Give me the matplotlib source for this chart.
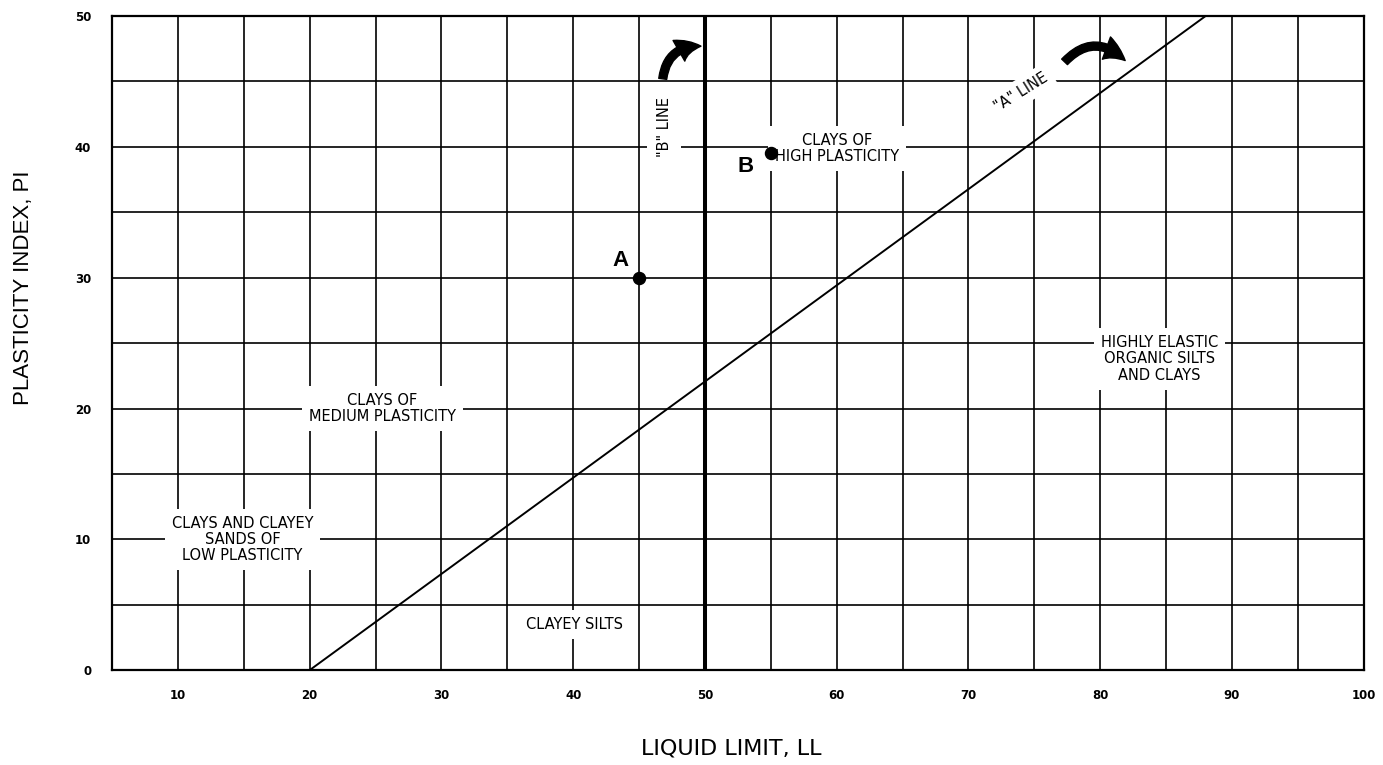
import matplotlib
matplotlib.use("Agg")
import matplotlib.pyplot as plt
from matplotlib.patches import FancyArrowPatch

plt.rcParams['font.family'] = ['DejaVu Sans']

# ---- data ----
x_ticks = [10, 20, 30, 40, 50, 60, 70, 80, 90, 100]
y_ticks = [0, 10, 20, 30, 40, 50]
grid_x = [10, 15, 20, 25, 30, 35, 40, 45, 50, 55, 60, 65, 70, 75, 80, 85, 90, 95]
grid_y = [5, 10, 15, 20, 25, 30, 35, 40, 45]
a_line_ll = [20, 88]
a_line_pi = [0, 50]
b_line_ll = [50, 50]
b_line_pi = [0, 50]
points_name = ["A", "B"]
points_ll = [45, 55]
points_pi = [30.0, 39.5]
zone_labels = ["CLAYS AND CLAYEY\nSANDS OF\nLOW PLASTICITY",
               "CLAYS OF\nMEDIUM PLASTICITY",
               "CLAYEY SILTS",
               "CLAYS OF\nHIGH PLASTICITY",
               "HIGHLY ELASTIC\nORGANIC SILTS\nAND CLAYS"]
zone_ll = [14.9, 25.5, 40.1, 60.0, 84.5]
zone_pi = [10.0, 20.0, 3.5, 39.9, 23.8]

fig = plt.figure(figsize=(13.83, 7.65), dpi=100)
ax = fig.add_axes([0.081, 0.124, 0.905, 0.855])
ax.set_xlim(5, 100)
ax.set_ylim(0, 50)

for gx in grid_x:
    ax.axvline(gx, color='black', lw=1.2, zorder=1)
for gy in grid_y:
    ax.axhline(gy, color='black', lw=1.2, zorder=1)

ax.plot(a_line_ll, a_line_pi, color='black', lw=1.4, zorder=2)
ax.plot(b_line_ll, b_line_pi, color='black', lw=2.9, zorder=2)

for s in ax.spines.values():
    s.set_linewidth(1.6)

ax.set_xticks(x_ticks)
ax.set_yticks(y_ticks)
ax.tick_params(length=0, labelsize=8.5)
ax.tick_params(axis='x', pad=13.5)
ax.tick_params(axis='y', pad=15)
for lab in ax.get_xticklabels() + ax.get_yticklabels():
    lab.set_fontweight('bold')

box = dict(facecolor='white', edgecolor='none', pad=5)
for txt, x, y in zip(zone_labels, zone_ll, zone_pi):
    ax.text(x, y, txt, ha='center', va='center', fontsize=10.5, linespacing=1.1,
            bbox=box, zorder=3)

ax.scatter(points_ll, points_pi, s=75, color='black', zorder=5)
ax.text(points_ll[0] - 1.4, points_pi[0] + 1.3, points_name[0], ha='center', va='center',
        fontsize=16, fontweight='bold', family='Liberation Sans', zorder=5)
ax.text(points_ll[1] - 1.9, points_pi[1] - 1.0, points_name[1], ha='center', va='center',
        fontsize=16, fontweight='bold', family='Liberation Sans', zorder=5)

ax.text(46.9, 41.5, '"B" LINE', rotation=90, ha='center', va='center', fontsize=10.5,
        bbox=dict(facecolor='white', edgecolor='none', pad=7), zorder=3)
ax.text(74.0, 44.2, '"A" LINE', rotation=32, ha='center', va='center', fontsize=10.5,
        rotation_mode='anchor', bbox=dict(facecolor='white', edgecolor='none', pad=4), zorder=3)

arrow_style = "simple,head_length=0.9,head_width=0.95,tail_width=0.32"
ax.add_patch(FancyArrowPatch((46.8, 45.2), (49.7, 47.7), connectionstyle="arc3,rad=-0.45",
                             arrowstyle=arrow_style, mutation_scale=18, color='black',
                             shrinkA=0, shrinkB=0, zorder=4))
ax.add_patch(FancyArrowPatch((77.3, 46.5), (81.9, 46.6), connectionstyle="arc3,rad=-0.5",
                             arrowstyle=arrow_style, mutation_scale=18, color='black',
                             shrinkA=0, shrinkB=0, zorder=4))

fig.text(0.529, 0.021, "LIQUID LIMIT, LL", ha='center', va='center', fontsize=16)
fig.text(0.017, 0.624, "PLASTICITY INDEX, PI", ha='center', va='center', rotation=90,
         fontsize=16, family='Liberation Sans')

fig.savefig("out.png", dpi=100)
